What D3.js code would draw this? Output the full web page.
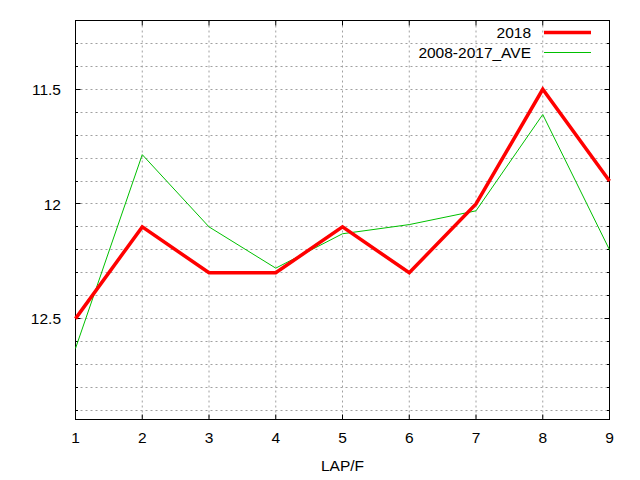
<!DOCTYPE html>
<html>
<head>
<meta charset="utf-8">
<script src="https://cdn.jsdelivr.net/npm/d3@7"></script>
<style>
  html, body { margin: 0; padding: 0; background: #fff; }
  svg text { font-family: "Liberation Sans", Arial, sans-serif; font-size: 15.5px; fill: #000; }
</style>
</head>
<body>
<div class="container"></div>
<script>
const laps = [1, 2, 3, 4, 5, 6, 7, 8, 9];
const series2018 = [12.5, 12.1, 12.3, 12.3, 12.1, 12.3, 12.0, 11.5, 11.9];
const seriesAve = [12.63, 11.785, 12.1, 12.28, 12.13, 12.09, 12.03, 11.61, 12.2];
const yMajorTicks = [11.5, 12, 12.5];
const xLabel = "LAP/F";
const legendNames = ["2018", "2008-2017_AVE"];

const chartWidth = 640;
const chartHeight = 480;
const plotLeft = 75.5, plotRight = 609.5, plotTop = 20.5, plotBottom = 419.5;

const xScale = d3.scaleLinear().domain([1, 9]).range([plotLeft, plotRight]);
// inverted axis: smaller times at the top
const yScale = d3.scaleLinear().domain([11.2, 12.94]).range([plotTop, plotBottom]);

const yMinorTicks = d3.range(112, 130).map(v => v / 10);

const svg = d3
  .select(".container")
  .append("svg")
  .attr("width", chartWidth)
  .attr("height", chartHeight);

// grid
const grid = svg.append("g").attr("stroke", "#a0a0a0").attr("stroke-width", 1).attr("stroke-dasharray", "2,3");
grid
  .selectAll("line.gx")
  .data(laps.slice(1, -1))
  .enter()
  .append("line")
  .attr("x1", d => xScale(d))
  .attr("x2", d => xScale(d))
  .attr("y1", plotTop)
  .attr("y2", plotBottom);
grid
  .selectAll("line.gy")
  .data(yMinorTicks.filter(d => d > 11.25))
  .enter()
  .append("line")
  .attr("x1", plotLeft)
  .attr("x2", plotRight)
  .attr("y1", d => Math.round(yScale(d) - 0.5) + 0.5)
  .attr("y2", d => Math.round(yScale(d) - 0.5) + 0.5);

// ticks
const ticks = svg.append("g").attr("stroke", "#000").attr("stroke-width", 1);
yMinorTicks.forEach(d => {
  const y = Math.round(yScale(d) - 0.5) + 0.5;
  const major = yMajorTicks.some(m => Math.abs(m - d) < 1e-6);
  const len = major ? 5 : 2.5;
  ticks.append("line").attr("x1", plotLeft).attr("x2", plotLeft + len).attr("y1", y).attr("y2", y);
  ticks.append("line").attr("x1", plotRight).attr("x2", plotRight - len).attr("y1", y).attr("y2", y);
});
laps.forEach(d => {
  const x = xScale(d);
  ticks.append("line").attr("x1", x).attr("x2", x).attr("y1", plotBottom).attr("y2", plotBottom - 5);
  ticks.append("line").attr("x1", x).attr("x2", x).attr("y1", plotTop).attr("y2", plotTop + 5);
});

// border
svg
  .append("rect")
  .attr("x", plotLeft)
  .attr("y", plotTop)
  .attr("width", plotRight - plotLeft)
  .attr("height", plotBottom - plotTop)
  .attr("fill", "none")
  .attr("stroke", "#000")
  .attr("stroke-width", 1);

// tick labels
svg
  .append("g")
  .selectAll("text")
  .data(yMajorTicks)
  .enter()
  .append("text")
  .attr("x", 61)
  .attr("y", d => yScale(d) + 5.7)
  .attr("text-anchor", "end")
  .text(d => d);

svg
  .append("g")
  .selectAll("text")
  .data(laps)
  .enter()
  .append("text")
  .attr("x", d => xScale(d))
  .attr("y", 443)
  .attr("text-anchor", "middle")
  .text(d => d);

svg
  .append("text")
  .attr("x", (plotLeft + plotRight) / 2)
  .attr("y", 471)
  .attr("text-anchor", "middle")
  .text(xLabel);

// lines
const line = d3
  .line()
  .x((d, i) => xScale(laps[i]))
  .y(d => yScale(d));

svg
  .append("path")
  .datum(seriesAve)
  .attr("d", line)
  .attr("fill", "none")
  .attr("stroke", "#00c000")
  .attr("stroke-width", 1);

svg
  .append("path")
  .datum(series2018)
  .attr("d", line)
  .attr("fill", "none")
  .attr("stroke", "#ff0000")
  .attr("stroke-width", 3.5)
  .attr("stroke-linejoin", "miter");

// legend
const legendStyles = [
  { color: "#ff0000", w: 3.5 },
  { color: "#00c000", w: 1 }
];
legendNames.forEach((name, i) => {
  const cy = 32.5 + i * 20;
  svg
    .append("text")
    .attr("x", 531)
    .attr("y", cy + 5.2)
    .attr("text-anchor", "end")
    .text(name);
  svg
    .append("line")
    .attr("x1", 544)
    .attr("x2", 591)
    .attr("y1", cy)
    .attr("y2", cy)
    .attr("stroke", legendStyles[i].color)
    .attr("stroke-width", legendStyles[i].w);
});
</script>
</body>
</html>
